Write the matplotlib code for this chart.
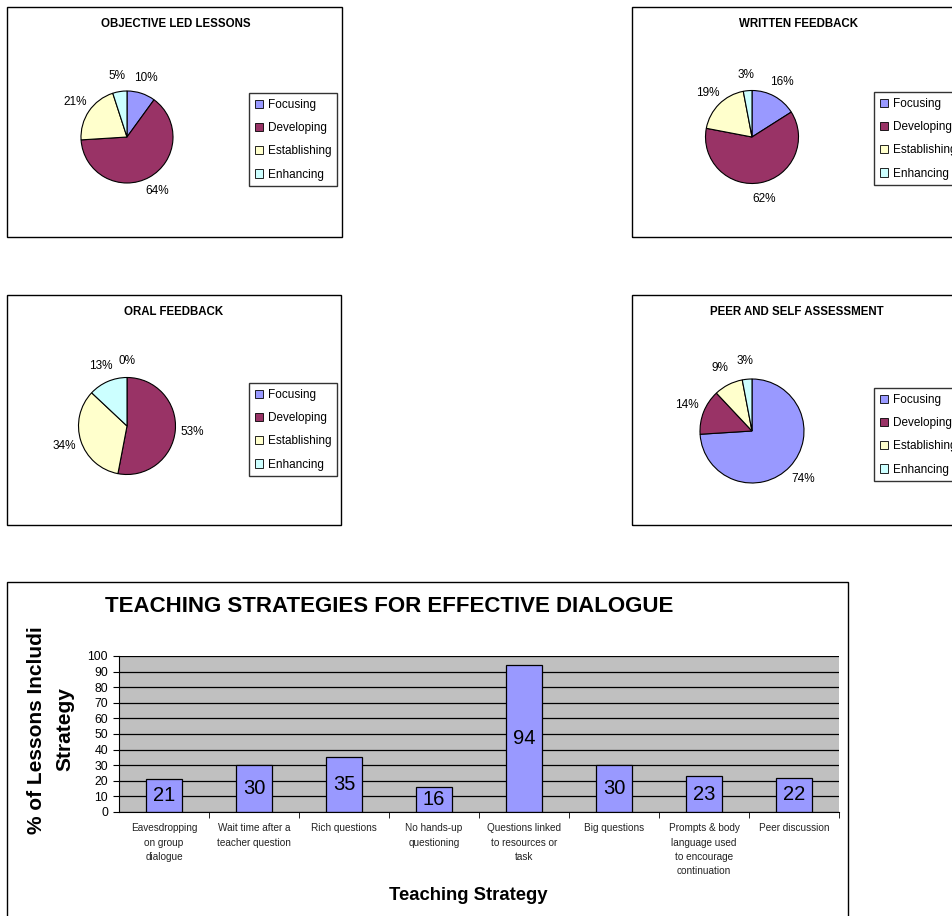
import matplotlib
matplotlib.use("Agg")
import matplotlib.pyplot as plt
from matplotlib.patches import Rectangle, Patch

plt.rcParams['font.family'] = ['Liberation Sans', 'DejaVu Sans']

W, H = 953, 916

# pie data
levels = ["Focusing", "Developing", "Establishing", "Enhancing"]
level_colors = ["#9999FF", "#993366", "#FFFFCC", "#CCFFFF"]
objective_led = [10, 64, 21, 5]
written_feedback = [16, 62, 19, 3]
oral_feedback = [0, 53, 34, 13]
peer_self = [74, 14, 9, 3]

# bar data
strategies = ["Eavesdropping\non group\ndialogue", "Wait time after a\nteacher question",
              "Rich questions", "No hands-up\nquestioning",
              "Questions linked\nto resources or\ntask", "Big questions",
              "Prompts & body\nlanguage used\nto encourage\ncontinuation", "Peer discussion"]
strategy_pct = [21, 30, 35, 16, 94, 30, 23, 22]


# pixel -> figure coords
def fx(x):
    return x / W


def fy(y):
    return 1 - y / H


def box(fig, x0, y0, x1, y1):
    fig.add_artist(Rectangle((fx(x0), fy(y1)), fx(x1) - fx(x0), fy(y0) - fy(y1),
                             transform=fig.transFigure, fill=False,
                             edgecolor="black", linewidth=1.0))


def pie_chart(fig, values, title, box_xy, title_x, cx, cy, r, legend_xy):
    x0, y0, x1, y1 = box_xy
    box(fig, x0, y0, x1, y1)
    fig.text(fx(title_x), fy(y0 + 17), title, ha="center", va="center",
             fontsize=8.3, fontweight="bold")
    s = r * 1.9
    ax = fig.add_axes([fx(cx - s), fy(cy + s), 2 * s / W, 2 * s / H])
    ax.pie(values, colors=level_colors, startangle=90, counterclock=False,
           autopct="%1.0f%%", pctdistance=1.35,
           wedgeprops=dict(edgecolor="black", linewidth=0.8),
           textprops=dict(fontsize=8.5))
    lim = s / r
    ax.set_xlim(-lim, lim)
    ax.set_ylim(-lim, lim)
    ax.set_aspect("equal")
    ax.axis("off")
    handles = [Patch(facecolor=c, edgecolor="black", linewidth=0.6) for c in level_colors]
    fig.legend(handles, levels, loc="upper left",
               bbox_to_anchor=(fx(legend_xy[0]), fy(legend_xy[1])),
               fontsize=8.5, frameon=True, fancybox=False, edgecolor="black",
               handlelength=0.7, handleheight=0.7, handletextpad=0.4,
               labelspacing=0.95, borderpad=0.5, borderaxespad=0)


fig = plt.figure(figsize=(W / 100, H / 100), dpi=100)

# cut-off heading at the top of the page
fig.text(fx(509), fy(-4), "g", ha="center", va="baseline", fontsize=15, fontweight="bold")

pie_chart(fig, objective_led, "OBJECTIVE LED LESSONS", (7, 7, 342, 237), 176, 127, 137, 46, (249, 93))
pie_chart(fig, written_feedback, "WRITTEN FEEDBACK", (632, 7, 1000, 237), 799, 752, 137, 46.5, (874, 92))
pie_chart(fig, oral_feedback, "ORAL FEEDBACK", (7, 295, 341, 525), 174, 127, 426, 48.5, (249, 383))
pie_chart(fig, peer_self, "PEER AND SELF ASSESSMENT", (632, 295, 1000, 525), 797, 752, 431, 52, (874, 388))

# bar chart
box(fig, 7, 582, 848, 940)
fig.text(fx(389), fy(607), "TEACHING STRATEGIES FOR EFFECTIVE DIALOGUE",
         ha="center", va="center", fontsize=16, fontweight="bold")

ax = fig.add_axes([fx(119), fy(812), 720 / W, 156 / H])
ax.set_facecolor("#C0C0C0")
ax.set_axisbelow(True)
ax.grid(axis="y", color="black", linewidth=0.9)
xs = list(range(len(strategies)))
bars = ax.bar(xs, strategy_pct, width=0.4, color="#9999FF", edgecolor="black", linewidth=0.9)
ax.bar_label(bars, labels=[str(v) for v in strategy_pct], label_type="center", fontsize=14.5)
ax.set_xlim(-0.5, len(strategies) - 0.5)
ax.set_ylim(0, 100)
ax.set_yticks(range(0, 101, 10))
ax.tick_params(axis="y", labelsize=8.8, length=4, pad=4)
ax.set_xticks(xs)
ax.set_xticklabels(strategies, fontsize=7.2, color="#222222", linespacing=1.55)
ax.tick_params(axis="x", which="major", length=0, pad=8)
ax.set_xticks([i + 0.5 for i in range(len(strategies))], minor=True)
ax.tick_params(axis="x", which="minor", length=4)
for side in ["top", "right"]:
    ax.spines[side].set_visible(False)

fig.text(fx(37), fy(730), "% of Lessons Includi", rotation=90, ha="center", va="center",
         fontsize=15, fontweight="bold")
fig.text(fx(65), fy(729), "Strategy", rotation=90, ha="center", va="center",
         fontsize=15, fontweight="bold")
fig.text(fx(468), fy(896), "Teaching Strategy", ha="center", va="center",
         fontsize=13.3, fontweight="bold")

fig.savefig("out.png", dpi=100)
